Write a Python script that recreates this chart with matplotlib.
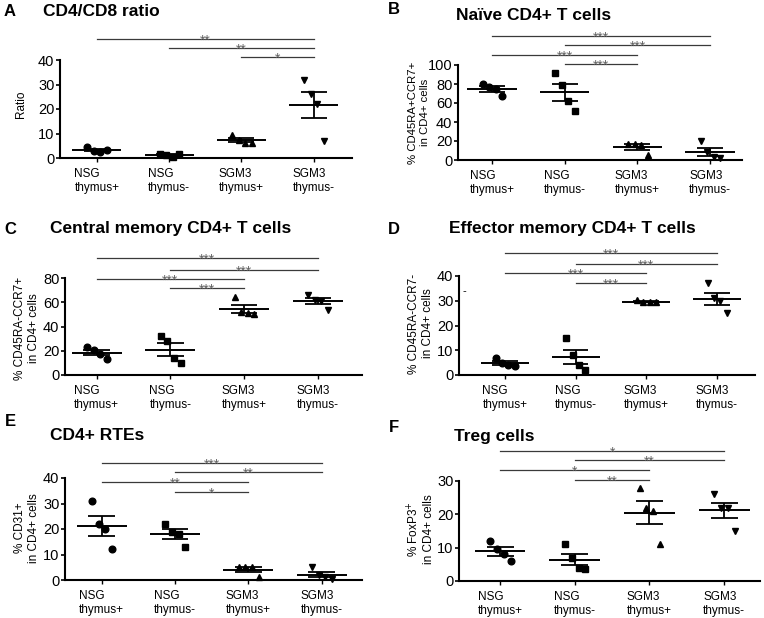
import matplotlib
matplotlib.use('Agg')
import matplotlib.pyplot as plt
import numpy as np

plt.rcParams['font.family'] = ['Liberation Sans Narrow', 'Liberation Sans', 'DejaVu Sans']

# ---------------- data ----------------
groups = ["NSG\nthymus+", "NSG\nthymus-", "SGM3\nthymus+", "SGM3\nthymus-"]
markers = ['o', 's', '^', 'v']

a_title = "CD4/CD8 ratio"
a_ylabel = "Ratio"
a_values = [[4.3, 3.0, 2.5, 3.3], [1.8, 1.3, 0.6, 1.6], [9.2, 7.5, 6.3, 6.2], [32, 26, 22, 7]]
a_yticks = [0, 10, 20, 30, 40]
a_sig = [(0, 3, 48.6, '**'), (1, 3, 44.9, '**'), (2, 3, 41.2, '*')]

b_title = "Naïve CD4+ T cells"
b_ylabel = "% CD45RA+CCR7+\nin CD4+ cells"
b_values = [[80, 77, 75, 67], [92, 79, 62, 52], [17, 17, 16, 5], [20, 8, 3, 2]]
b_yticks = [0, 20, 40, 60, 80, 100]
b_sig = [(0, 3, 130.5, '***'), (1, 3, 121, '***'), (0, 2, 110.5, '***'), (1, 2, 101, '***')]

c_title = "Central memory CD4+ T cells"
c_ylabel = "% CD45RA-CCR7+\nin CD4+ cells"
c_values = [[23, 21, 17, 13], [32, 28, 14, 10], [64, 52, 51, 50], [66, 62, 61, 54]]
c_yticks = [0, 20, 40, 60, 80]
c_sig = [(0, 3, 96.5, '***'), (1, 3, 86.6, '***'), (0, 2, 79.2, '***'), (1, 2, 71.8, '***')]

d_title = "Effector memory CD4+ T cells"
d_ylabel = "% CD45RA-CCR7-\nin CD4+ cells"
d_values = [[7, 5, 4, 3.5], [15, 8, 4, 2], [30.2, 29.6, 29.5, 29.4], [37, 31, 30, 25]]
d_yticks = [0, 10, 20, 30, 40]
d_sig = [(0, 3, 49.3, '***'), (1, 3, 44.8, '***'), (0, 2, 41.2, '***'), (1, 2, 37.2, '***')]

e_title = "CD4+ RTEs"
e_ylabel = "% CD31+\nin CD4+ cells"
e_values = [[31, 22, 20, 12], [22, 19, 18, 13], [5, 5, 5, 1], [5, 2, 1, 0.5]]
e_yticks = [0, 10, 20, 30, 40]
e_sig = [(0, 3, 45.9, '***'), (1, 3, 42.4, '**'), (0, 2, 38.4, '**'), (1, 2, 34.5, '*')]

f_title = "Treg cells"
f_ylabel = "% FoxP3$^{+}$\nin CD4+ cells"
f_values = [[12, 9.5, 8, 6], [11, 7, 4, 3.5], [28, 22, 21, 11], [26, 22, 22, 15]]
f_yticks = [0, 10, 20, 30]
f_sig = [(0, 3, 39, '*'), (1, 3, 36.3, '**'), (0, 2, 33.3, '*'), (1, 2, 30.3, '**')]

# ---------------- layout ----------------
W, H = 764, 618
jitter = [-0.13, -0.04, 0.05, 0.14]

panels = [
    # letter, title, ylabel, values, yticks, sig, axes px (l, r, top, bottom), xlim, letter pos, title pos, ylabel pos
    ('A', a_title, a_ylabel, a_values, a_yticks, a_sig, (60, 352, 60, 158), (-0.51, 3.53), (4, 12), (43, 12), (-0.135, 0.55)),
    ('B', b_title, b_ylabel, b_values, b_yticks, b_sig, (458, 742, 65, 160), (-0.47, 3.44), (388, 10), (456, 15), (-0.137, 0.50)),
    ('C', c_title, c_ylabel, c_values, c_yticks, c_sig, (65, 362, 278, 375), (-0.43, 3.6), (4, 230), (50, 229), (-0.128, 0.48)),
    ('D', d_title, d_ylabel, d_values, d_yticks, d_sig, (459, 755, 276, 375), (-0.65, 3.54), (388, 230), (449, 229), (-0.128, 0.52)),
    ('E', e_title, e_ylabel, e_values, e_yticks, e_sig, (65, 362, 478, 580), (-0.5, 3.55), (5, 422), (50, 436), (-0.128, 0.51)),
    ('F', f_title, f_ylabel, f_values, f_yticks, f_sig, (459, 760, 481, 581), (-0.55, 3.48), (389, 427), (454, 436), (-0.126, 0.52)),
]

fig = plt.figure(figsize=(W / 100, H / 100), dpi=100)

for letter, title, ylabel, values, yticks, sig, box, xlim, lpos, tpos, ylpos in panels:
    l, r, t, b = box
    ax = fig.add_axes([l / W, 1 - b / H, (r - l) / W, (b - t) / H])
    for i, vals in enumerate(values):
        vals = np.array(vals, dtype=float)
        xs = i + np.array(jitter[:len(vals)])
        ax.plot(xs, vals, linestyle='none', marker=markers[i], color='black',
                markersize=4.8, clip_on=False, zorder=3)
        m = vals.mean()
        sem = vals.std(ddof=1) / np.sqrt(len(vals))
        ax.hlines(m, i - 0.34, i + 0.34, color='black', lw=1.4, zorder=4)
        ax.vlines(i, m - sem, m + sem, color='black', lw=1.3, zorder=4)
        ax.hlines([m - sem, m + sem], i - 0.18, i + 0.18, color='black', lw=1.3, zorder=4)
    for i0, i1, yv, lab in sig:
        ax.plot([i0, i1], [yv, yv], color='#3a3a3a', lw=0.9, clip_on=False, zorder=2)
        ax.annotate(lab, xy=((i0 + i1) / 2, yv), xytext=(0, -4.2), textcoords='offset points',
                    ha='center', va='baseline', fontsize=10, color='#606060',
                    family=['Liberation Sans', 'DejaVu Sans'], annotation_clip=False)
    ax.set_xlim(*xlim)
    ax.set_ylim(yticks[0], yticks[-1])
    ax.set_yticks(yticks)
    ax.set_xticks(range(len(groups)))
    ax.set_xticklabels(groups, multialignment='left', linespacing=1.3)
    for sp in ['top', 'right']:
        ax.spines[sp].set_visible(False)
    for sp in ['left', 'bottom']:
        ax.spines[sp].set_linewidth(1.5)
    ax.tick_params(axis='y', length=3, width=1.2, pad=1, labelsize=10.5)
    ax.tick_params(axis='x', length=3, width=1.0, pad=4, labelsize=8.5)
    ax.text(ylpos[0], ylpos[1], ylabel, transform=ax.transAxes, rotation=90,
            ha='center', va='center', fontsize=8.2 if letter == 'B' else 8.5,
            linespacing=1.15)
    fig.text(lpos[0] / W, 1 - lpos[1] / H, letter, fontsize=12, fontweight='bold',
             ha='left', va='center')
    fig.text(tpos[0] / W, 1 - tpos[1] / H, title, fontsize=12.5, fontweight='bold',
             ha='left', va='center')
    if letter == 'D':
        ax.text(-0.57, 34, '-', fontsize=8, ha='center', va='center')

fig.savefig('out.png', dpi=100)
